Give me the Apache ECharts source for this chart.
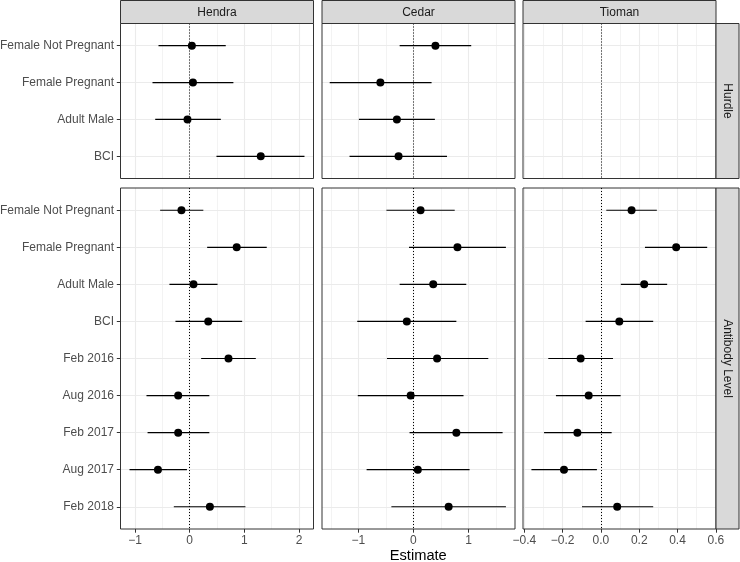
<!DOCTYPE html>
<html>
<head>
<meta charset="utf-8">
<script src="https://cdn.jsdelivr.net/npm/echarts@6/dist/echarts.min.js"></script>
<style>
  html, body { margin: 0; padding: 0; background: #fff; }
  #chart { width: 740px; height: 562px; }
</style>
</head>
<body>
<div id="chart"></div>
<script>
const columns = ['Hendra', 'Cedar', 'Tioman'];
const rows = ['Hurdle', 'Antibody Level'];
const hurdleCats = ['Female Not Pregnant', 'Female Pregnant', 'Adult Male', 'BCI'];
const antibodyCats = ['Female Not Pregnant', 'Female Pregnant', 'Adult Male', 'BCI',
    'Feb 2016', 'Aug 2016', 'Feb 2017', 'Aug 2017', 'Feb 2018'];

// Hurdle row
const hendraHurdleEst = [0.04, 0.06, -0.04, 1.30];
const hendraHurdleLo  = [-0.57, -0.68, -0.63, 0.49];
const hendraHurdleHi  = [0.66, 0.80, 0.57, 2.10];
const cedarHurdleEst  = [0.40, -0.60, -0.30, -0.27];
const cedarHurdleLo   = [-0.25, -1.52, -0.99, -1.16];
const cedarHurdleHi   = [1.05, 0.33, 0.39, 0.61];
const tiomanHurdleEst = [];
const tiomanHurdleLo  = [];
const tiomanHurdleHi  = [];

// Antibody level row
const hendraAbEst = [-0.15, 0.86, 0.07, 0.34, 0.71, -0.21, -0.21, -0.58, 0.37];
const hendraAbLo  = [-0.54, 0.32, -0.37, -0.26, 0.21, -0.79, -0.77, -1.10, -0.29];
const hendraAbHi  = [0.25, 1.41, 0.51, 0.96, 1.21, 0.36, 0.36, -0.05, 1.02];
const cedarAbEst  = [0.13, 0.80, 0.36, -0.12, 0.43, -0.05, 0.78, 0.08, 0.64];
const cedarAbLo   = [-0.49, -0.08, -0.25, -1.02, -0.48, -1.01, -0.07, -0.85, -0.40];
const cedarAbHi   = [0.75, 1.68, 0.96, 0.78, 1.36, 0.91, 1.62, 1.02, 1.68];
const tiomanAbEst = [0.16, 0.393, 0.226, 0.096, -0.106, -0.064, -0.123, -0.193, 0.085];
const tiomanAbLo  = [0.028, 0.23, 0.104, -0.08, -0.275, -0.235, -0.297, -0.363, -0.099];
const tiomanAbHi  = [0.292, 0.555, 0.346, 0.273, 0.063, 0.103, 0.056, -0.021, 0.273];

// x scales per column
const xMin = [-1.265, -1.66, -0.407];
const xMax = [2.265, 1.845, 0.601];
const xMajor = [[-1, 0, 1, 2], [-1, 0, 1], [-0.4, -0.2, 0, 0.2, 0.4, 0.6]];
const xMinor = [[-0.5, 0.5, 1.5], [-1.5, -0.5, 0.5, 1.5], [-0.3, -0.1, 0.1, 0.3, 0.5]];
const xDigits = [0, 0, 1];

const panels = [
    [hendraHurdleEst, hendraHurdleLo, hendraHurdleHi],
    [cedarHurdleEst, cedarHurdleLo, cedarHurdleHi],
    [tiomanHurdleEst, tiomanHurdleLo, tiomanHurdleHi],
    [hendraAbEst, hendraAbLo, hendraAbHi],
    [cedarAbEst, cedarAbLo, cedarAbHi],
    [tiomanAbEst, tiomanAbLo, tiomanAbHi]
];
const rowCats = [hurdleCats, antibodyCats];

/* layout */
const FONT = '"Liberation Sans", Arial, Helvetica, sans-serif';
const gridLeft = [120.5, 322, 523];
const gridWidth = 193;
const gridTop = [23.5, 188];
const gridHeight = [155, 341];
const stripSize = 23;

const minus = s => s.replace('-', '\u2212');

const grids = [], xAxes = [], yAxes = [], series = [], graphics = [];

for (let r = 0; r < 2; r++) {
    const cats = rowCats[r];
    const idx = cats.map((_, i) => i);
    for (let c = 0; c < 3; c++) {
        const p = r * 3 + c;
        grids.push({
            left: gridLeft[c], top: gridTop[r], width: gridWidth, height: gridHeight[r],
            show: true, borderColor: '#333', borderWidth: 1, backgroundColor: 'transparent',
            containLabel: false, outerBoundsMode: 'none', z: 1
        });
        xAxes.push({
            type: 'value', gridIndex: p, min: xMin[c], max: xMax[c], position: 'bottom',
            axisLine: { show: false, onZero: false },
            splitLine: { show: false },
            axisTick: { show: r === 1, customValues: xMajor[c], length: 3.7, lineStyle: { color: '#333', width: 1 } },
            axisLabel: {
                show: r === 1, customValues: xMajor[c], margin: 5.5,
                color: '#4d4d4d', fontSize: 12, fontFamily: FONT,
                formatter: v => minus(Number(v).toFixed(xDigits[c]))
            }
        });
        yAxes.push({
            type: 'value', gridIndex: p, inverse: true, min: -0.6, max: cats.length - 0.4, position: 'left',
            axisLine: { show: false, onZero: false },
            splitLine: { show: false },
            axisTick: { show: c === 0, customValues: idx, length: 3.7, lineStyle: { color: '#333', width: 1 } },
            axisLabel: {
                show: c === 0, customValues: idx, margin: 6.5,
                color: '#4d4d4d', fontSize: 12, fontFamily: FONT,
                formatter: v => cats[Math.round(v)]
            }
        });

        // panel grid lines
        const gridLines = []
            .concat(xMinor[c].map(v => ({ xAxis: v, lineStyle: { color: '#ebebeb', width: 0.6, type: 'solid' } })))
            .concat(xMajor[c].map(v => ({ xAxis: v, lineStyle: { color: '#ebebeb', width: 1.1, type: 'solid' } })))
            .concat(idx.map(v => ({ yAxis: v, lineStyle: { color: '#ebebeb', width: 1.1, type: 'solid' } })));
        series.push({
            type: 'line', xAxisIndex: p, yAxisIndex: p, data: [], z: 0, silent: true,
            markLine: { z: 0, silent: true, symbol: ['none', 'none'], label: { show: false }, animation: false, data: gridLines }
        });
        // zero reference line
        series.push({
            type: 'line', xAxisIndex: p, yAxisIndex: p, data: [], z: 2, silent: true,
            markLine: {
                z: 2, silent: true, symbol: ['none', 'none'], label: { show: false }, animation: false,
                data: [{ xAxis: 0 }], lineStyle: { color: '#000', width: 1, type: [1, 2] }
            }
        });

        const [est, lo, hi] = panels[p];
        if (est.length) {
            series.push({
                type: 'custom', xAxisIndex: p, yAxisIndex: p, z: 4, silent: true, animation: false,
                data: est.map((_, i) => [lo[i], hi[i], i]),
                encode: { x: [0, 1], y: 2 },
                renderItem: (params, api) => {
                    const a = api.coord([api.value(0), api.value(2)]);
                    const b = api.coord([api.value(1), api.value(2)]);
                    return { type: 'line', shape: { x1: a[0], y1: a[1], x2: b[0], y2: b[1] },
                             style: { stroke: '#000', lineWidth: 1.2 } };
                }
            });
            series.push({
                type: 'scatter', xAxisIndex: p, yAxisIndex: p, z: 6, silent: true, animation: false,
                symbol: 'circle', symbolSize: 8, itemStyle: { color: '#000', opacity: 1 },
                data: est.map((v, i) => [v, i])
            });
        }
    }
}

/* strips */
columns.forEach((name, c) => {
    graphics.push({
        type: 'rect', shape: { x: gridLeft[c], y: 0.5, width: gridWidth, height: stripSize },
        style: { fill: '#d9d9d9', stroke: '#333', lineWidth: 1 }, z: 10
    });
    graphics.push({
        type: 'text', x: gridLeft[c] + gridWidth / 2, y: 12.5, z: 11,
        style: { text: name, fill: '#1a1a1a', fontSize: 12, fontFamily: FONT, align: 'center', verticalAlign: 'middle' }
    });
});
rows.forEach((name, r) => {
    const x0 = gridLeft[2] + gridWidth;
    graphics.push({
        type: 'rect', shape: { x: x0, y: gridTop[r], width: stripSize, height: gridHeight[r] },
        style: { fill: '#d9d9d9', stroke: '#333', lineWidth: 1 }, z: 10
    });
    graphics.push({
        type: 'text', x: x0 + stripSize / 2, y: gridTop[r] + gridHeight[r] / 2, rotation: -Math.PI / 2, z: 11,
        style: { text: name, fill: '#1a1a1a', fontSize: 12, fontFamily: FONT, align: 'center', verticalAlign: 'middle' }
    });
});
graphics.push({
    type: 'text', x: (gridLeft[0] + gridLeft[2] + gridWidth) / 2, y: 556, z: 11,
    style: { text: 'Estimate', fill: '#000', fontSize: 14.67, fontFamily: FONT, align: 'center', verticalAlign: 'middle' }
});

const chart = echarts.init(document.getElementById('chart'), null, { renderer: 'canvas' });
chart.setOption({
    animation: false,
    backgroundColor: '#fff',
    grid: grids,
    xAxis: xAxes,
    yAxis: yAxes,
    series: series,
    graphic: graphics
});
window.onresize = () => chart.resize();
</script>
</body>
</html>
